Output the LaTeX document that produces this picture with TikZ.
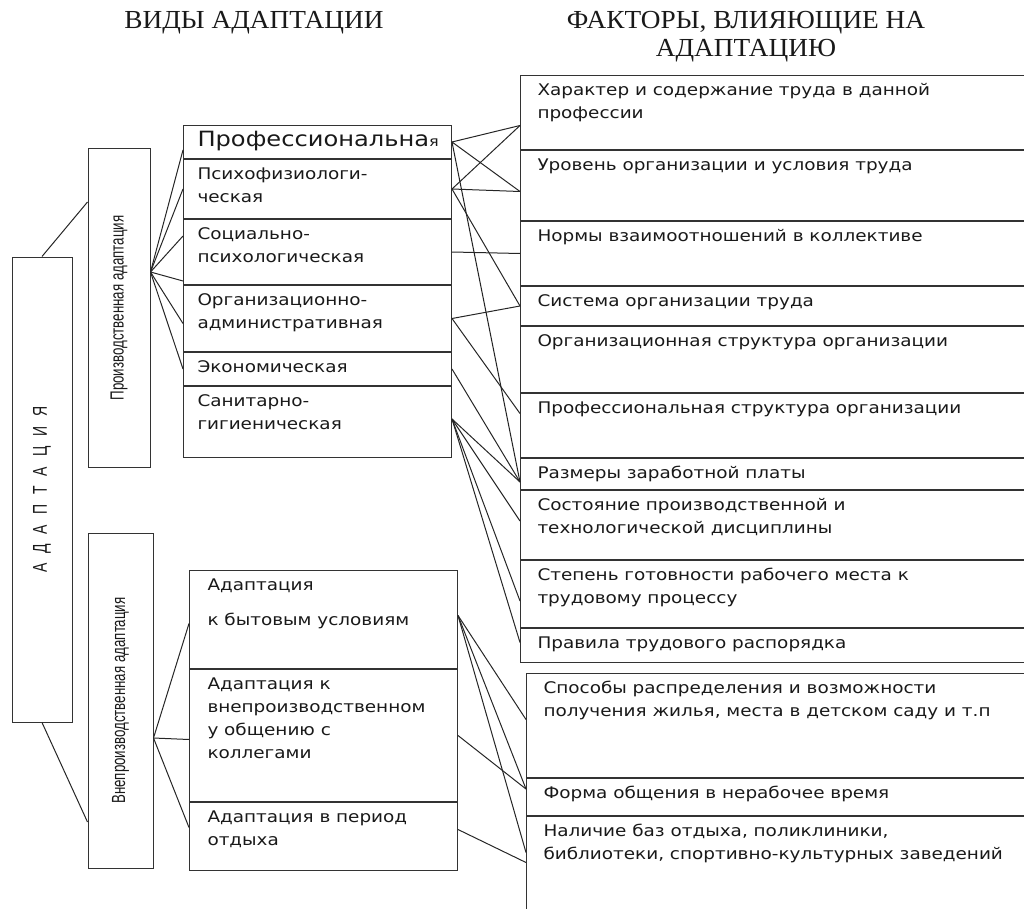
\documentclass[tikz,border=0pt]{standalone}
\usepackage{fontspec}
\usepackage{graphicx}
\usetikzlibrary{positioning, calc}

\newfontfamily\bodyfont[FakeStretch=1.15]{DejaVu Sans}
\newfontfamily\titlefont[FakeStretch=1.05]{Liberation Serif}
\newfontfamily\narrowfont[FakeStretch=0.70]{Liberation Sans}

% text at the top of a row: [width]{height}{text}
\newcommand{\rowcell}[3][240]{\parbox[t][#2pt][t]{#1pt}{\raggedright\vspace*{8pt}#3}}

\begin{document}
\begin{tikzpicture}[
    x=1pt, y=-1pt,
    node distance=0pt,
    every node/.style={text=black!90},
    line_style/.style={draw=black!85, line width=1pt},
    side_node/.style={draw=black!80, line width=1pt, inner sep=0pt, font=\narrowfont\fontsize{19}{22}\selectfont},
    vid_node/.style={draw=black!80, line width=1pt, inner xsep=14pt, inner ysep=0pt, anchor=north west, font=\bodyfont\fontsize{16}{23}\selectfont},
    fac_node/.style={vid_node, inner xsep=17pt},
    title_node/.style={anchor=base, align=center, font=\titlefont\fontsize{26}{28}\selectfont}
    ]
    \useasboundingbox (0,0) rectangle (1024,909);
    \clip (0,0) rectangle (1024,909);

    % Titles
    \node[title_node] (vid_title) at (254,29) {ВИДЫ АДАПТАЦИИ};
    \node[title_node] (fac_title) at (746,57) {ФАКТОРЫ, ВЛИЯЮЩИЕ НА\\АДАПТАЦИЮ};

    % Left column
    \node[side_node, minimum width=60, minimum height=465, font=\narrowfont\fontsize{20}{22}\selectfont] (adapt) at (42,489.5) {\rotatebox{90}{\spaceskip=10pt А Д А П Т А Ц И Я}};
    \node[side_node, minimum width=62, minimum height=318] (prod) at (119,308) {\rotatebox{90}{Производственная адаптация}};
    \node[side_node, minimum width=65, minimum height=335] (nonprod) at (120.5,700.5) {\rotatebox{90}{Внепроизводственная адаптация}};

    % Kinds of adaptation
    \node[vid_node] (prof) at (183,125) {\rowcell{33}{\vspace*{-2.5pt}{\fontsize{21}{24}\selectfont Профессиональна}{\fontsize{14}{16}\selectfont я}}};
    \node[vid_node] (psych) [below=of prof] {\rowcell{59}{Психофизиологи-\\ческая}};
    \node[vid_node] (soc) [below=of psych] {\rowcell{65}{Социально-\\психологическая}};
    \node[vid_node] (org) [below=of soc] {\rowcell{66}{Организационно-\\административная}};
    \node[vid_node] (econ) [below=of org] {\rowcell{33}{Экономическая}};
    \node[vid_node] (sanit) [below=of econ] {\rowcell{71}{Санитарно-\\гигиеническая}};

    \node[vid_node, inner xsep=18pt] (byt) at (189,570) {\rowcell[232]{98}{Адаптация\\[12pt]к бытовым условиям}};
    \node[vid_node, inner xsep=18pt] (vnep) [below=of byt] {\rowcell[232]{132}{Адаптация к\\внепроизводственном\\у общению с\\коллегами}};
    \node[vid_node, inner xsep=18pt] (otd) [below=of vnep] {\rowcell[232]{68}{Адаптация в период\\отдыха}};

    % Factors
    \node[fac_node] (har) at (520,75) {\rowcell[486]{74}{Характер и содержание труда в данной\\профессии}};
    \node[fac_node] (urov) [below=of har] {\rowcell[486]{70}{Уровень организации и условия труда}};
    \node[fac_node] (norm) [below=of urov] {\rowcell[486]{64}{Нормы взаимоотношений в коллективе}};
    \node[fac_node] (sist) [below=of norm] {\rowcell[486]{39}{Система организации труда}};
    \node[fac_node] (orgstr) [below=of sist] {\rowcell[486]{66}{Организационная структура организации}};
    \node[fac_node] (profstr) [below=of orgstr] {\rowcell[486]{64}{Профессиональная структура организации}};
    \node[fac_node] (razm) [below=of profstr] {\rowcell[486]{31}{Размеры заработной платы}};
    \node[fac_node] (sost) [below=of razm] {\rowcell[486]{69}{Состояние производственной и\\технологической дисциплины}};
    \node[fac_node] (stepen) [below=of sost] {\rowcell[486]{67}{Степень готовности рабочего места к\\трудовому процессу}};
    \node[fac_node] (prav) [below=of stepen] {\rowcell[486]{34}{Правила трудового распорядка}};

    \node[fac_node] (sposob) at (526,673) {\rowcell[486]{104}{Способы распределения и возможности\\получения жилья, места в детском саду и т.п}};
    \node[fac_node] (forma) [below=of sposob] {\rowcell[486]{37}{Форма общения в нерабочее время}};
    \node[fac_node] (nalich) [below=of forma] {\rowcell[486]{116}{Наличие баз отдыха, поликлиники,\\библиотеки, спортивно-культурных заведений}};

    % Shared line ends
    \coordinate (prod_out) at ([yshift=36pt]prod.east);
    \coordinate (nonprod_out) at ([yshift=-37.5pt]nonprod.east);
    \coordinate (sanit_out) at ([yshift=3pt]sanit.east);
    \coordinate (byt_out) at ([yshift=4pt]byt.east);
    \coordinate (har_in) at ([yshift=-13pt]har.west);
    \coordinate (urov_in) at ([yshift=-6pt]urov.west);
    \coordinate (razm_in) at ([yshift=-8pt]razm.west);
    \coordinate (forma_in) at ([yshift=8pt]forma.west);

    % Lines
    \draw[line_style] (adapt.north) -- ([yshift=106pt]prod.west);
    \draw[line_style] (adapt.south) -- ([yshift=-121.5pt]nonprod.west);

    \draw[line_style] (prod_out) -- ([yshift=-8pt]prof.west);
    \draw[line_style] (prod_out) -- (psych.west);
    \draw[line_style] (prod_out) -- ([yshift=16pt]soc.west);
    \draw[line_style] (prod_out) -- ([yshift=4pt]soc.south west);
    \draw[line_style] (prod_out) -- ([yshift=-5pt]org.west);
    \draw[line_style] (prod_out) -- (econ.west);

    \draw[line_style] (nonprod_out) -- ([yshift=-4pt]byt.west);
    \draw[line_style] (nonprod_out) -- ([yshift=-4pt]vnep.west);
    \draw[line_style] (nonprod_out) -- ([yshift=9pt]otd.west);

    \draw[line_style] (prof.east) -- (har_in);
    \draw[line_style] (prof.east) -- (urov_in);
    \draw[line_style] (prof.east) -- (razm_in);
    \draw[line_style] (psych.east) -- (har_in);
    \draw[line_style] (psych.east) -- (urov_in);
    \draw[line_style] (psych.east) -- (sist.west);
    \draw[line_style] (soc.east) -- (norm.west);
    \draw[line_style] (org.east) -- (sist.west);
    \draw[line_style] (org.east) -- ([yshift=12pt]profstr.west);
    \draw[line_style] (econ.east) -- (razm_in);
    \draw[line_style] (sanit_out) -- (razm_in);
    \draw[line_style] (sanit_out) -- ([yshift=4pt]sost.west);
    \draw[line_style] (sanit_out) -- ([yshift=-7pt]stepen.west);
    \draw[line_style] (sanit_out) -- ([yshift=3pt]prav.west);

    \draw[line_style] (byt_out) -- ([yshift=6pt]sposob.west);
    \draw[line_style] (byt_out) -- (forma_in);
    \draw[line_style] (byt_out) -- ([yshift=22pt]nalich.west);
    \draw[line_style] (vnep.east) -- (forma_in);
    \draw[line_style] ([yshift=7pt]otd.east) -- ([yshift=12pt]nalich.west);
\end{tikzpicture}
\end{document}
